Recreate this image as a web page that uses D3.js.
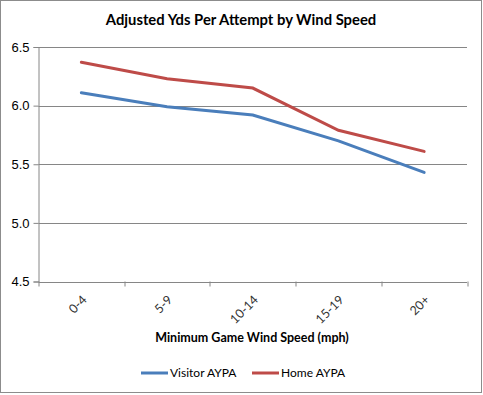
<!DOCTYPE html>
<head>
<meta charset='utf-8'>
<style>
  body { margin: 0; background: #fff; font-family: Lato, 'Open Sans', sans-serif; }
  .tick text { font-size: 13px; fill: #000; }
</style>
</head>
<body>
<div id='vis'></div>
<script src='https://d3js.org/d3.v7.min.js'></script>
<script>
  const categories = ['0-4', '5-9', '10-14', '15-19', '20+']
  const visitor = [6.11, 5.99, 5.92, 5.70, 5.43]
  const home = [6.37, 6.23, 6.15, 5.79, 5.61]
  const yTicks = [4.5, 5.0, 5.5, 6.0, 6.5]
  const seriesNames = ['Visitor AYPA', 'Home AYPA']
  const colours = ['#4A7EBB', '#BE4B48']

  const W = 483, H = 395
  const margin = {top: 47, right: 16, bottom: 113, left: 38.5}
  const width = 467 - margin.left
  const height = 281.5 - margin.top

  const svg = d3.select('#vis').append('svg')
    .attr('width', W).attr('height', H)

  // outer frame
  svg.append('rect')
    .attr('x', 0.5).attr('y', 0.5)
    .attr('width', W - 2).attr('height', H - 3)
    .attr('fill', '#fff').attr('stroke', '#8c8c8c')

  svg.append('text')
    .attr('x', 241).attr('y', 25)
    .attr('text-anchor', 'middle')
    .style('font-size', '14.8px').style('font-weight', 'bold')
    .text('Adjusted Yds Per Attempt by Wind Speed')

  const g = svg.append('g').attr('transform', `translate(${margin.left},${margin.top})`)

  const x = d3.scaleBand().domain(categories).range([0, width])
  const y = d3.scaleLinear().domain([4.5, 6.5]).range([height, 0])

  // gridlines
  g.append('g').selectAll('line').data(yTicks).enter().append('line')
    .attr('x1', 0).attr('x2', width)
    .attr('y1', d => Math.round(y(d)) + 0.5).attr('y2', d => Math.round(y(d)) + 0.5)
    .attr('stroke', '#868686')

  const yAxis = g.append('g')
    .call(d3.axisLeft(y).tickValues(yTicks).tickFormat(d3.format('.1f')).tickSize(5).tickPadding(4))
  yAxis.select('.domain').attr('stroke', '#868686')
  yAxis.selectAll('.tick line').attr('stroke', '#868686')

  // category boundary ticks
  const bounds = categories.map(c => x(c)).concat([width])
  g.append('g').selectAll('line').data(bounds).enter().append('line')
    .attr('x1', d => Math.round(d) + 0.5).attr('x2', d => Math.round(d) + 0.5)
    .attr('y1', height).attr('y2', height + 5)
    .attr('stroke', '#868686')

  g.append('g').selectAll('text').data(categories).enter().append('text')
    .attr('transform', d => `translate(${x(d) + x.bandwidth() / 2},${height + 13}) rotate(-45)`)
    .attr('text-anchor', 'end')
    .attr('dy', '0.7em')
    .style('font-size', '12.5px')
    .attr('fill', '#333')
    .text(d => d)

  const line = d3.line()
    .x((d, i) => x(categories[i]) + x.bandwidth() / 2)
    .y(d => y(d))

  ;[visitor, home].forEach((s, i) => {
    g.append('path').datum(s)
      .attr('d', line)
      .attr('fill', 'none')
      .attr('stroke', colours[i])
      .attr('stroke-width', 3)
      .attr('stroke-linecap', 'round')
  })

  svg.append('text')
    .attr('x', 252).attr('y', 342)
    .attr('text-anchor', 'middle')
    .style('font-size', '12.5px').style('font-weight', 'bold')
    .text('Minimum Game Wind Speed (mph)')

  // legend
  const legendX = [141, 252]
  const legend = svg.append('g').selectAll('g').data(seriesNames).enter().append('g')
    .attr('transform', (d, i) => `translate(${legendX[i]},373)`)
  legend.append('line')
    .attr('x1', 0).attr('x2', 27)
    .attr('stroke', (d, i) => colours[i]).attr('stroke-width', 3)
  legend.append('text')
    .attr('x', 29).attr('dy', '0.35em')
    .style('font-size', '12px')
    .text(d => d)
</script>
</body>
